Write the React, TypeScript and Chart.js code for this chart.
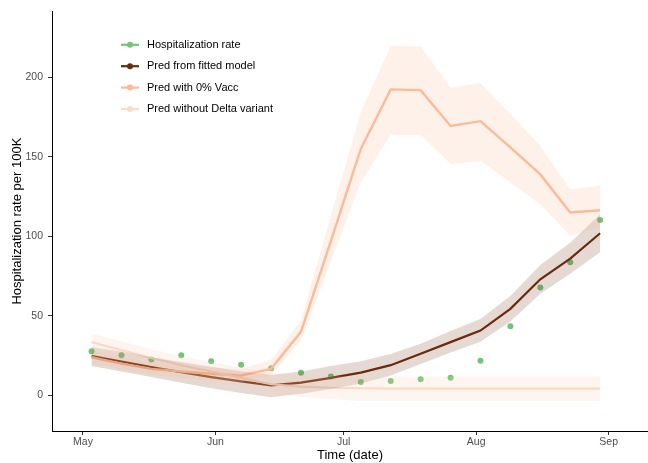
import React, { useEffect, useRef } from 'react';
import { Chart, registerables } from 'chart.js';

Chart.register(...registerables);

// Weekly observation days (days since May 1)
const weekDays = [2, 9, 16, 23, 30, 37, 44, 51, 58, 65, 72, 79, 86, 93, 100, 107, 114, 121];

const hospRate = [27.8, 25.3, 22.6, 25.3, 21.5, 19.3, 17.0, 14.2, 11.9, 8.4, 9.0, 10.2, 11.1, 21.8, 43.5, 67.8, 83.7, 110.4];

const fitted = [24.7, 21.3, 17.8, 14.6, 11.5, 8.8, 6.3, 8.0, 11.0, 14.3, 19.0, 26.2, 33.5, 40.8, 54.4, 73.0, 86.0, 102.0];
const fittedLo = [18.5, 15.0, 11.5, 8.0, 4.5, 1.5, -1.2, 1.0, 4.0, 7.5, 12.5, 19.8, 27.0, 33.8, 46.5, 64.0, 76.5, 90.0];
const fittedHi = [30.5, 27.5, 24.0, 21.0, 18.0, 15.0, 12.8, 15.0, 18.5, 21.5, 26.0, 32.5, 40.5, 48.0, 62.5, 82.0, 96.0, 114.0];

const vacc0 = [24.0, 20.0, 16.7, 15.0, 13.6, 12.5, 16.7, 40.0, 97.0, 155.0, 192.5, 192.0, 169.5, 172.5, 156.0, 139.0, 115.0, 116.5];
const vacc0Lo = [20.0, 16.5, 13.0, 11.0, 9.5, 8.5, 12.5, 34.5, 84.0, 134.0, 164.0, 164.0, 145.5, 147.5, 134.0, 120.0, 100.5, 105.5];
const vacc0Hi = [28.5, 24.0, 20.5, 19.0, 17.5, 16.5, 22.5, 47.0, 113.0, 178.0, 220.0, 219.5, 193.5, 196.5, 177.0, 157.0, 129.5, 132.0];

const noDelta = [33.5, 28.5, 23.5, 19.0, 15.0, 11.0, 7.0, 5.5, 4.8, 4.5, 4.3, 4.2, 4.2, 4.2, 4.2, 4.2, 4.2, 4.2];
const noDeltaLo = [28.5, 23.5, 18.5, 14.0, 10.0, 5.5, 1.5, -1.0, -2.5, -3.5, -3.6, -3.6, -3.6, -3.6, -3.6, -3.6, -3.6, -3.6];
const noDeltaHi = [39.0, 34.0, 29.0, 24.5, 21.0, 17.5, 14.0, 12.5, 12.0, 11.9, 11.9, 11.9, 11.9, 11.9, 11.9, 11.9, 11.9, 11.9];

const tickDays = [0, 31, 61, 92, 123];
const tickLabels = ['May', 'Jun', 'Jul', 'Aug', 'Sep'];
const yTicks = [0, 50, 100, 150, 200];

const legendLabels = ['Hospitalization rate', 'Pred from fitted model', 'Pred with 0% Vacc', 'Pred without Delta variant'];

const GREEN = '#74c476';
const BROWN = '#6b2a0c';
const ORANGE = '#fdbb96';
const LIGHT = '#fbdccb';
const legendColors = [GREEN, BROWN, ORANGE, LIGHT];

const FONT = '"Liberation Sans", Arial, Helvetica, sans-serif';

const toPts = (vals: number[]) => weekDays.map((d, i) => ({ x: d, y: vals[i] }));

const legendPlugin = {
  id: 'customLegend',
  afterDraw(chart: any) {
    const { ctx, chartArea } = chart;
    ctx.save();
    legendLabels.forEach((label, i) => {
      const y = chartArea.top + 33.5 + i * 21.4;
      const x0 = chartArea.left + 69;
      ctx.strokeStyle = legendColors[i];
      ctx.lineWidth = 2.2;
      ctx.beginPath();
      ctx.moveTo(x0, y);
      ctx.lineTo(x0 + 18, y);
      ctx.stroke();
      ctx.fillStyle = legendColors[i];
      ctx.beginPath();
      ctx.arc(x0 + 9, y, 3, 0, Math.PI * 2);
      ctx.fill();
      ctx.fillStyle = '#000';
      ctx.font = `11px ${FONT}`;
      ctx.textBaseline = 'middle';
      ctx.textAlign = 'left';
      ctx.fillText(label, x0 + 26, y);
    });
    ctx.restore();
  },
};

const band = (vals: number[], color: string, fill: any) => ({
  data: toPts(vals),
  borderWidth: 0,
  borderColor: 'rgba(0,0,0,0)',
  pointRadius: 0,
  backgroundColor: color,
  fill,
  tension: 0,
});

const line = (vals: number[], color: string, width: number) => ({
  data: toPts(vals),
  borderColor: color,
  borderWidth: width,
  pointRadius: 0,
  fill: false,
  tension: 0,
});

export default function App() {
  const ref = useRef<HTMLCanvasElement | null>(null);

  useEffect(() => {
    if (!ref.current) return;
    const chart = new Chart(ref.current, {
      type: 'line',
      data: {
        datasets: [
          band(noDeltaLo, 'rgba(0,0,0,0)', false),
          band(noDeltaHi, 'rgba(250,205,180,0.2)', '-1'),
          band(vacc0Lo, 'rgba(0,0,0,0)', false),
          band(vacc0Hi, 'rgba(252,187,150,0.2)', '-1'),
          band(fittedLo, 'rgba(0,0,0,0)', false),
          band(fittedHi, 'rgba(107,42,12,0.18)', '-1'),
          line(noDelta, LIGHT, 2.2),
          line(vacc0, ORANGE, 2.4),
          line(fitted, BROWN, 2.2),
          {
            data: toPts(hospRate),
            showLine: false,
            pointRadius: 3,
            pointBorderWidth: 0,
            pointBackgroundColor: GREEN,
            borderColor: GREEN,
            backgroundColor: GREEN,
            fill: false,
          },
        ] as any,
      },
      options: {
        animation: false,
        responsive: false,
        devicePixelRatio: 1,
        layout: { autoPadding: false, padding: { top: 10, right: 0, left: 0, bottom: 0 } },
        plugins: { legend: { display: false }, tooltip: { enabled: false } },
        scales: {
          x: {
            type: 'linear',
            min: -7.25,
            max: 132.2,
            afterFit: (s: any) => {
              s.height = 32;
            },
            afterBuildTicks: (s: any) => {
              s.ticks = tickDays.map((v) => ({ value: v }));
            },
            ticks: {
              callback: (_v: any, i: number) => tickLabels[i],
              color: '#4d4d4d',
              font: { family: FONT, size: 10.5 },
              padding: 1,
              maxRotation: 0,
              autoSkip: false,
            },
            grid: { display: true, drawOnChartArea: false, drawTicks: true, tickLength: 4, color: '#333' },
            border: { display: true, color: '#000', width: 1 },
            title: {
              display: true,
              text: 'Time (date)',
              color: '#000',
              font: { family: FONT, size: 13 },
              padding: { top: 0, bottom: 0 },
            },
          },
          y: {
            type: 'linear',
            min: -22.4,
            max: 241.6,
            afterFit: (s: any) => {
              s.width = 52;
            },
            afterBuildTicks: (s: any) => {
              s.ticks = yTicks.map((v) => ({ value: v }));
            },
            ticks: {
              color: '#4d4d4d',
              font: { family: FONT, size: 10.5 },
              padding: 5,
            },
            grid: { display: true, drawOnChartArea: false, drawTicks: true, tickLength: 4, color: '#333' },
            border: { display: true, color: '#000', width: 1 },
            title: {
              display: true,
              text: 'Hospitalization rate per 100K',
              color: '#000',
              font: { family: FONT, size: 13 },
              padding: { top: 10, bottom: 0 },
            },
          },
        },
      },
      plugins: [legendPlugin],
    });
    return () => chart.destroy();
  }, []);

  return (
    <div style={{ position: 'absolute', left: 0, top: 0, width: 648, height: 463, background: '#fff' }}>
      <canvas ref={ref} width={648} height={463} style={{ display: 'block' }} />
    </div>
  );
}
